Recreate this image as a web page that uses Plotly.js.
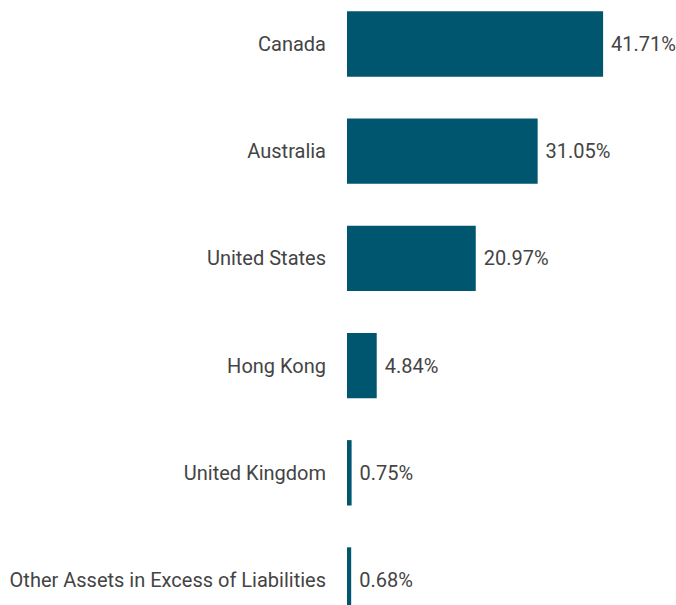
<!DOCTYPE html>
<html><head><meta charset="utf-8">
<script src="https://cdn.plot.ly/plotly-3.0.1.min.js"></script>
<style>html,body{margin:0;padding:0;background:#fff}</style>
</head><body>
<div id="chart" style="width:676px;height:605px"></div>
<script>
const categories = ["Canada","Australia","United States","Hong Kong","United Kingdom","Other Assets in Excess of Liabilities"];
const values = [41.71, 31.05, 20.97, 4.84, 0.75, 0.68];
const labels = ["41.71%","31.05%","20.97%","4.84%","0.75%","0.68%"];

const FONT = 'Roboto, sans-serif';
const trace = {
  type: 'bar', orientation: 'h',
  y: categories, x: values,
  text: labels, texttemplate: ' %{text}', textposition: 'outside', cliponaxis: false,
  textfont: {family: FONT, size: 20, color: '#444'},
  marker: {color: '#00566f'},
  hoverinfo: 'none'
};
const layout = {
  width: 676, height: 605,
  margin: {l: 347, r: 22, t: 0, b: 0},
  paper_bgcolor: '#fff', plot_bgcolor: '#fff',
  bargap: 0.39,
  showlegend: false,
  font: {family: FONT, size: 20, color: '#444'},
  xaxis: {range: [0, 50], visible: false, fixedrange: true},
  yaxis: {type: 'category', range: [5.233, -0.41], showgrid: false, zeroline: false,
    showline: false, ticks: '', ticklabelstandoff: 20,
    tickfont: {family: FONT, size: 20, color: '#444'}}
};
Plotly.newPlot('chart', [trace], layout, {displayModeBar: false, staticPlot: true});
</script>
</body></html>
